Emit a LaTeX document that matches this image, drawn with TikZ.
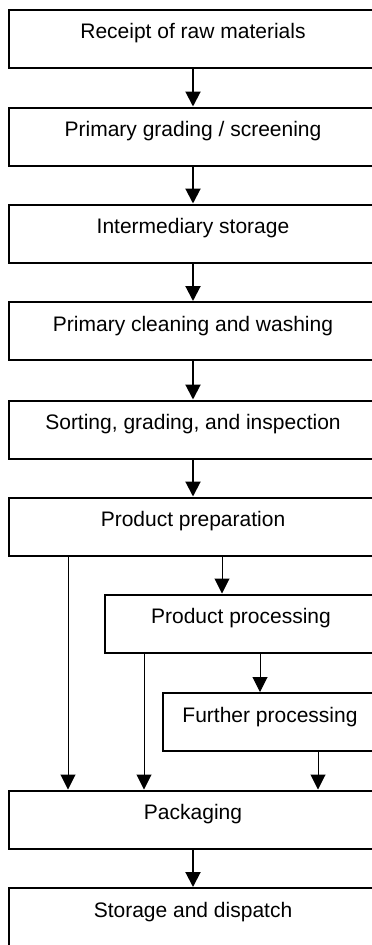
\documentclass[tikz,border=0pt]{standalone}
\usepackage{fontspec}
\setmainfont{Liberation Sans}
\usetikzlibrary{arrows.meta}

\begin{document}
\begin{tikzpicture}[
            x = 1pt, y = -1pt,
            box/.style = {draw, line width = 2pt, rectangle, minimum height = 58pt,
                          inner sep = 0pt, text height = 12pt, text depth = 12pt,
                          font = \fontsize{21}{25}\selectfont},
            arr/.style = {draw, line width = 2pt, -{Triangle[length = 15pt, width = 15pt]}},
            tarr/.style = {draw, line width = 1pt, -{Triangle[length = 15pt, width = 15pt]}},
        ]
        \useasboundingbox (0,0) rectangle (372,945);
        \clip (0,0) rectangle (372,945);

        \node (recv) [box, minimum width = 368pt] at (193, 38.5) {Receipt of raw materials};
        \node (grad) [box, minimum width = 368pt] at (193, 136.5) {Primary grading / screening};
        \node (stor) [box, minimum width = 368pt] at (193, 233.5) {Intermediary storage};
        \node (wash) [box, minimum width = 368pt] at (193, 331) {Primary cleaning and washing};
        \node (sort) [box, minimum width = 368pt] at (193, 429.5) {Sorting, grading, and inspection};
        \node (prep) [box, minimum width = 368pt] at (193, 526.5) {Product preparation};
        \node (proc) [box, minimum width = 272pt] at (241, 623.5) {Product processing};
        \node (furt) [box, minimum width = 214pt] at (270, 722) {Further processing};
        \node (pack) [box, minimum width = 368pt] at (193, 819.5) {Packaging};
        \node (disp) [box, minimum width = 368pt] at (193, 917) {Storage and dispatch};

        \coordinate (c1) at (68, 0);
        \coordinate (c2) at (222, 0);
        \coordinate (c3) at (144, 0);
        \coordinate (c4) at (260, 0);
        \coordinate (c5) at (318, 0);

        \path[arr] (recv) -- (grad);
        \path[arr] (grad) -- (stor);
        \path[arr] (stor) -- (wash);
        \path[arr] (wash) -- (sort);
        \path[arr] (sort) -- (prep);
        \path[arr] (pack) -- (disp);

        \path[tarr] (prep.south -| c1) -- (pack.north -| c1);
        \path[tarr] (prep.south -| c2) -- (proc.north -| c2);
        \path[tarr] (proc.south -| c3) -- (pack.north -| c3);
        \path[tarr] (proc.south -| c4) -- (furt.north -| c4);
        \path[tarr] (furt.south -| c5) -- (pack.north -| c5);
    \end{tikzpicture}
\end{document}
